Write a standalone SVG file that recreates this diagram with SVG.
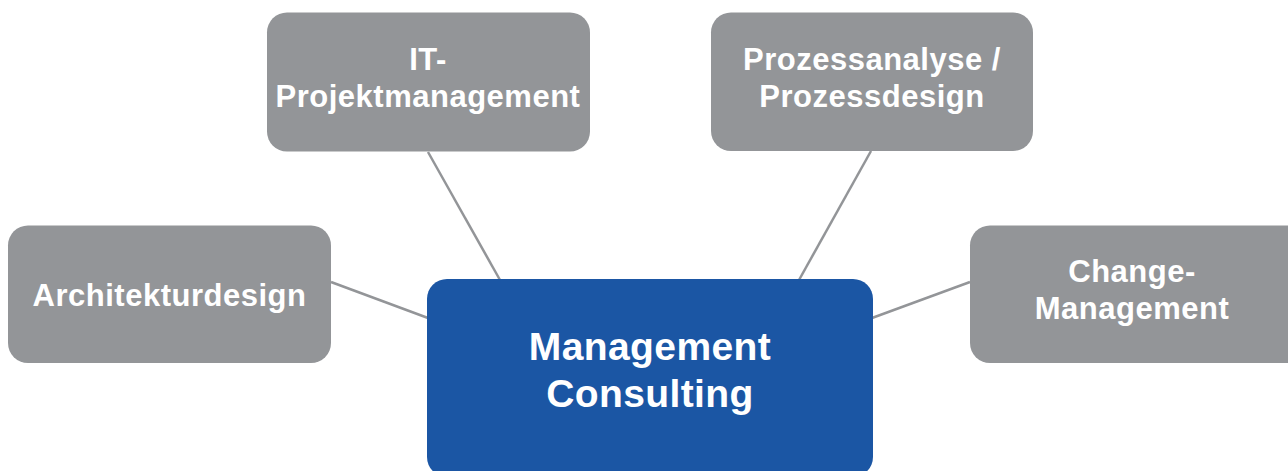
<svg xmlns="http://www.w3.org/2000/svg" width="1288" height="471" viewBox="0 0 1288 471">
<style>
.g{fill:#939598}
.c{fill:#1b56a4}
.t{fill:#fff;font-family:"Liberation Sans",Arial,sans-serif;font-weight:bold;text-anchor:middle}
.s{font-size:31px;letter-spacing:0.5px}
.b{font-size:39px;letter-spacing:0.4px}
.l{stroke:#939598;stroke-width:2.5;fill:none}
</style>
<rect width="1288" height="471" fill="#fff"/>
<g id="connectors">
<line class="l" x1="331" y1="282" x2="428" y2="318"/>
<line class="l" x1="428" y1="152" x2="500" y2="280"/>
<line class="l" x1="871" y1="151" x2="799" y2="280"/>
<line class="l" x1="970" y1="282" x2="872" y2="318"/>
</g>
<g id="architekturdesign">
<rect class="g" x="8" y="225.5" width="323" height="137.5" rx="20"/>
<text class="t s" x="169.5" y="306">Architekturdesign</text>
</g>
<g id="it-projektmanagement">
<rect class="g" x="267" y="12.5" width="323" height="139" rx="20"/>
<text class="t s" x="428" y="70">IT-</text>
<text class="t s" x="428" y="107">Projektmanagement</text>
</g>
<g id="prozessanalyse">
<rect class="g" x="711" y="12.5" width="322" height="138.5" rx="20"/>
<text class="t s" x="872" y="70">Prozessanalyse /</text>
<text class="t s" x="872" y="107">Prozessdesign</text>
</g>
<g id="change-management">
<rect class="g" x="970" y="225.5" width="340" height="137.5" rx="20"/>
<text class="t s" x="1132" y="282">Change-</text>
<text class="t s" x="1132" y="319">Management</text>
</g>
<g id="management-consulting">
<rect class="c" x="427" y="279" width="446" height="198" rx="20"/>
<text class="t b" x="650" y="360">Management</text>
<text class="t b" x="650" y="407">Consulting</text>
</g>
</svg>
